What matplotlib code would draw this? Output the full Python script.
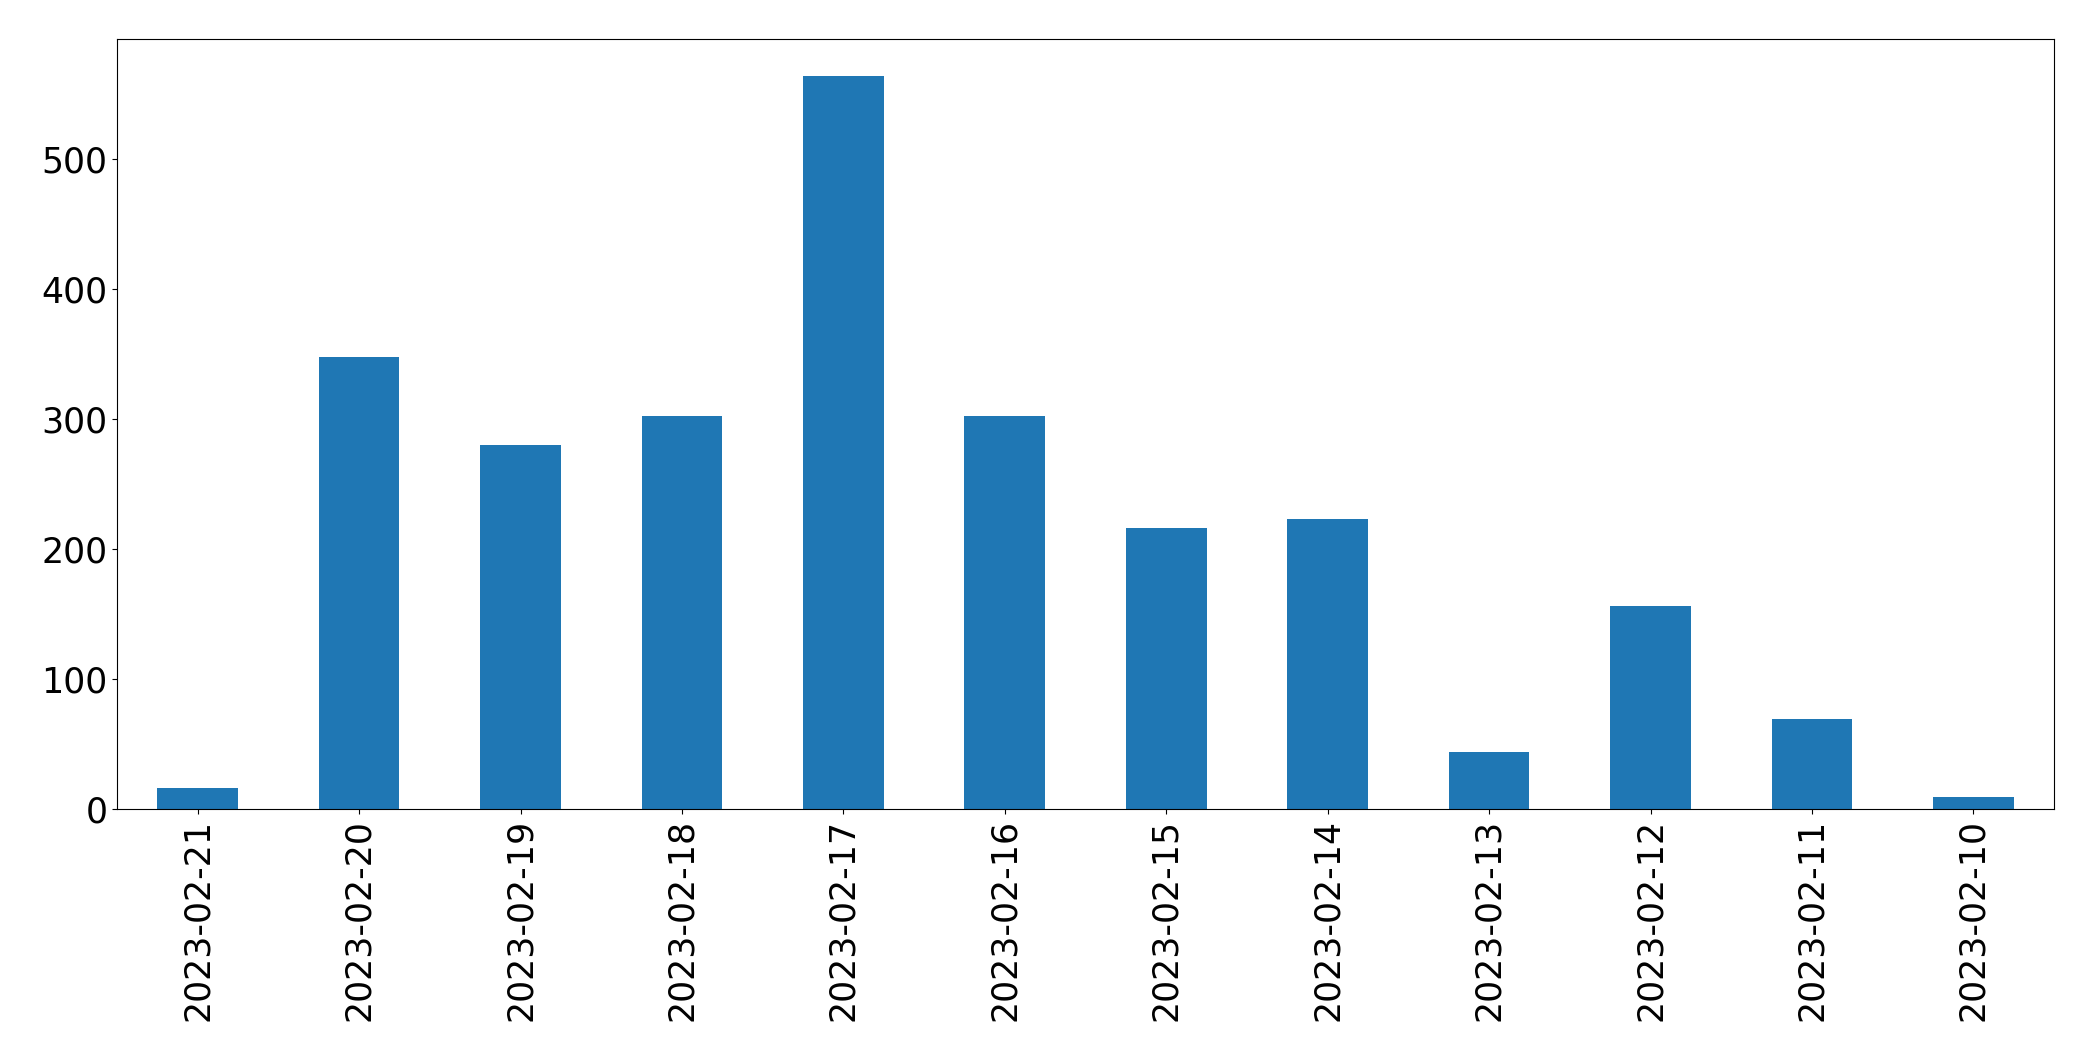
import numpy as np
import matplotlib
matplotlib.use('Agg')
import matplotlib.pyplot as plt

# Conteo diario (orden descendente de fechas, como en el original)
fechas = ['2023-02-21', '2023-02-20', '2023-02-19', '2023-02-18', '2023-02-17', '2023-02-16',
          '2023-02-15', '2023-02-14', '2023-02-13', '2023-02-12', '2023-02-11', '2023-02-10']
conteos = [16, 348, 280, 302, 564, 302, 216, 223, 44, 156, 69, 9]

fig, ax = plt.subplots(figsize=(20.93, 10.61), dpi=100)
fig.subplots_adjust(left=0.0559, right=0.9814, top=0.9632, bottom=0.2375)

x = np.arange(len(fechas))
ax.bar(x, conteos, width=0.5, color='#1f77b4')
ax.set_xlim(-0.5, len(fechas) - 0.5)
ax.set_xticks(x)
ax.set_xticklabels(fechas, rotation=90)
ax.tick_params(axis='both', labelsize=25)

fig.savefig('out.png', dpi=100)
